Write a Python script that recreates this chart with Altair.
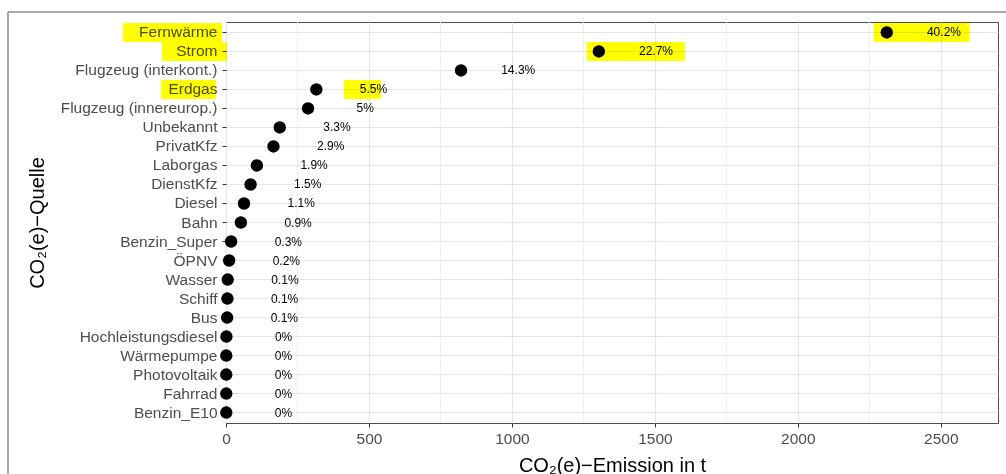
import altair as alt
import pandas as pd

# ---- data ----
quellen = ["Fernwärme", "Strom", "Flugzeug (interkont.)", "Erdgas", "Flugzeug (innereurop.)",
           "Unbekannt", "PrivatKfz", "Laborgas", "DienstKfz", "Diesel", "Bahn", "Benzin_Super",
           "ÖPNV", "Wasser", "Schiff", "Bus", "Hochleistungsdiesel", "Wärmepumpe",
           "Photovoltaik", "Fahrrad", "Benzin_E10"]
emission_t = [2311, 1304, 822, 316, 287, 188, 166, 108, 86, 63, 52, 18,
              11, 6, 5, 4, 1.5, 1, 1, 1, 1]
anteil_label = ["40.2%", "22.7%", "14.3%", "5.5%", "5%", "3.3%", "2.9%", "1.9%", "1.5%",
                "1.1%", "0.9%", "0.3%", "0.2%", "0.1%", "0.1%", "0.1%", "0%", "0%", "0%",
                "0%", "0%"]
label_nudge = 200  # label offset in t

# highlighter marks (data units)
hl_rows = ["Fernwärme", "Strom", "Erdgas", "Fernwärme", "Strom", "Erdgas"]
hl_x0 = [2265, 1262, 413, -360, -224, -227]
hl_x1 = [2601, 1605, 542, -14, 3, -35]

x_major = [0, 500, 1000, 1500, 2000, 2500]
x_minor = [250, 750, 1250, 1750, 2250]
x_domain = [0, 2700]

FONT = "Liberation Sans"

df = pd.DataFrame({"Quelle": quellen, "Emission": emission_t, "Label": anteil_label})
hl_df = pd.DataFrame({"Quelle": hl_rows, "x0": hl_x0, "x1": hl_x1})
minor_df = pd.DataFrame({"m": x_minor})

x_scale = alt.Scale(domain=x_domain, nice=False, zero=False)
y_scale = alt.Scale(type="band", domain=quellen, paddingInner=0, paddingOuter=0.05)

x_axis = alt.Axis(title="CO₂(e)−Emission in t", values=x_major, format="d",
                  grid=True, gridColor="#E6E6E6", gridWidth=1.1, domain=False,
                  ticks=True, tickColor="#333333", tickSize=4, labelFontSize=15.5,
                  labelColor="#4D4D4D", labelPadding=4, labelFont=FONT, labelFlush=False,
                  titleFont=FONT, titleFontSize=20, titleColor="black",
                  titleFontWeight="normal", titleY=48, titleBaseline="alphabetic",
                  zindex=0)
y_axis = alt.Axis(title="CO₂(e)−Quelle", grid=True, gridColor="#E6E6E6", gridWidth=1.1,
                  domain=False, ticks=True, tickColor="#333333", tickSize=4,
                  bandPosition=0.5, labelFontSize=15.5, labelColor="#4D4D4D",
                  labelPadding=5, labelFont=FONT, titleFont=FONT, titleFontSize=20,
                  titleColor="black", titleFontWeight="normal", titleX=-189,
                  titleBaseline="middle", zindex=0)

minor = alt.Chart(minor_df).mark_rule(color="#EBEBEB", strokeWidth=0.9).encode(
    x=alt.X("m:Q", scale=x_scale, axis=x_axis)
)

highlight = alt.Chart(hl_df).mark_rect(color="#FFFF00", blend="multiply", clip=False).encode(
    x=alt.X("x0:Q", scale=x_scale, axis=x_axis),
    x2="x1:Q",
    y=alt.Y("Quelle:N", scale=y_scale, axis=y_axis),
)

points = alt.Chart(df).mark_circle(size=154, color="black", opacity=1).encode(
    x=alt.X("Emission:Q", scale=x_scale, axis=x_axis),
    y=alt.Y("Quelle:N", scale=y_scale, axis=y_axis),
)

labels = alt.Chart(df).transform_calculate(
    lx=f"datum.Emission + {label_nudge}"
).mark_text(fontSize=12, color="black", font=FONT, align="center", baseline="middle").encode(
    x=alt.X("lx:Q", scale=x_scale, axis=x_axis),
    y=alt.Y("Quelle:N", scale=y_scale, axis=y_axis),
    text="Label:N",
)

frame_df = pd.DataFrame({"k": [0]})
frame_left = alt.Chart(frame_df).mark_rule(color="#8C8C8C", strokeWidth=1.5).encode(
    x=alt.value(-218), y=alt.value(-10), y2=alt.value(460)
)
frame_top = alt.Chart(frame_df).mark_rule(color="#8C8C8C", strokeWidth=1.5).encode(
    x=alt.value(-218), x2=alt.value(790), y=alt.value(-10)
)

chart = alt.layer(minor, highlight, points, labels, frame_left, frame_top).properties(
    width=772, height=401,
    autosize=alt.AutoSizeParams(type="none"),
    padding={"left": 226, "top": 22, "right": 8, "bottom": 51},
    background="white",
).configure_view(stroke="#4D4D4D", strokeWidth=1)

chart.save("out.html", embed_options={"renderer": "svg", "actions": False})
